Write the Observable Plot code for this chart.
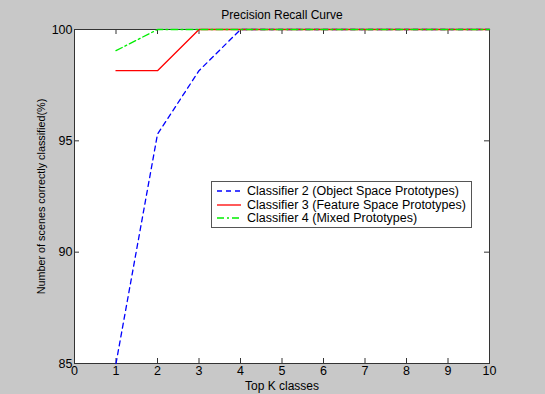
<!DOCTYPE html>
<html>
<head>
<meta charset="utf-8">
<script src="https://cdn.jsdelivr.net/npm/d3@7"></script>
<script src="https://cdn.jsdelivr.net/npm/@observablehq/plot@0.6"></script>
<style>
  html, body { margin: 0; padding: 0; }
  body { width: 545px; height: 394px; background: #c8c8c8; font-family: "Liberation Sans", Arial, sans-serif; }
  #wrap { position: relative; width: 545px; height: 394px; }
  #legend { position: absolute; left: 211px; top: 181px; width: 259px; height: 45px; background: white; border: 1px solid #555; font-size: 12.5px; color: #000; }
  #legend .row { position: absolute; left: 0; height: 14px; display: flex; align-items: center; white-space: nowrap; }
  #legend svg { margin-left: 5px; margin-right: 6px; }
</style>
</head>
<body>
<div id="wrap">
  <div id="chart"></div>
  <div id="legend"></div>
</div>
<script>
const topK = [1, 2, 3, 4, 5, 6, 7, 8, 9, 10];
const classifier2 = [85, 95.3, 98.15, 100, 100, 100, 100, 100, 100, 100];
const classifier3 = [98.15, 98.15, 100, 100, 100, 100, 100, 100, 100, 100];
const classifier4 = [99.05, 100, 100, 100, 100, 100, 100, 100, 100, 100];
const seriesNames = [
  "Classifier 2 (Object Space Prototypes)",
  "Classifier 3 (Feature Space Prototypes)",
  "Classifier 4 (Mixed Prototypes)"
];
const xTicks = [0, 1, 2, 3, 4, 5, 6, 7, 8, 9, 10];
const yTicks = [85, 90, 95, 100];
const titleText = "Precision Recall Curve";
const xLabel = "Top K classes";
const yLabel = "Number of scenes correctly classified(%)";

const styles = [
  { stroke: "#0000ff", dash: "5,4" },
  { stroke: "#ff0000", dash: null },
  { stroke: "#00ee00", dash: "7,3,2,3" }
];

const W = 545, H = 394, mL = 74, mR = 56, mT = 29, mB = 31;
const innerW = W - mL - mR, innerH = H - mT - mB;

const toRows = vals => topK.map((k, i) => ({ k, v: vals[i] }));
const series = [classifier2, classifier3, classifier4].map(toRows);

const plot = Plot.plot({
  width: W, height: H,
  marginLeft: mL, marginRight: mR, marginTop: mT, marginBottom: mB,
  style: { background: "transparent", fontFamily: "'Liberation Sans', Arial, sans-serif", fontSize: "12.5px", color: "#000" },
  x: { domain: [0, 10] },
  y: { domain: [85, 100] },
  marks: [
    Plot.frame({ fill: "white", stroke: null }),
    Plot.tickX(xTicks, { x: d => d, insetTop: innerH - 5, stroke: "#333" }),
    Plot.tickX(xTicks, { x: d => d, insetBottom: innerH - 5, stroke: "#333" }),
    Plot.tickY(yTicks, { y: d => d, insetLeft: innerW - 5, stroke: "#333" }),
    Plot.tickY(yTicks, { y: d => d, insetRight: innerW - 5, stroke: "#333" }),
    Plot.frame({ stroke: "#333" }),
    ...series.map((rows, i) => Plot.line(rows, {
      x: "k", y: "v", stroke: styles[i].stroke, strokeWidth: 1.3,
      strokeDasharray: styles[i].dash
    })),
    Plot.axisX(xTicks, { anchor: "bottom", tickSize: 0, tickPadding: 3, label: null }),
    Plot.axisY(yTicks, { anchor: "left", tickSize: 0, tickPadding: 2, label: null }),
    Plot.text([xLabel], { frameAnchor: "bottom", dy: 23, lineAnchor: "middle", textAnchor: "middle", fontSize: 12 }),
    Plot.text([yLabel], { frameAnchor: "left", dx: -33, rotate: -90, textAnchor: "middle", lineAnchor: "middle", fontSize: 10.8 }),
    Plot.text([titleText], { frameAnchor: "top", dy: -14, lineAnchor: "middle", fontSize: 12 })
  ]
});
document.getElementById("chart").appendChild(plot);

const legend = d3.select("#legend");
seriesNames.forEach((name, i) => {
  const row = legend.append("div").attr("class", "row").style("top", (2 + i * 13.5) + "px");
  const svg = row.append("svg").attr("width", 24).attr("height", 10);
  svg.append("line").attr("x1", 0).attr("x2", 24).attr("y1", 5).attr("y2", 5)
    .attr("stroke", styles[i].stroke).attr("stroke-width", 1.3)
    .attr("stroke-dasharray", styles[i].dash);
  row.append("span").text(name);
});
</script>
</body>
</html>
